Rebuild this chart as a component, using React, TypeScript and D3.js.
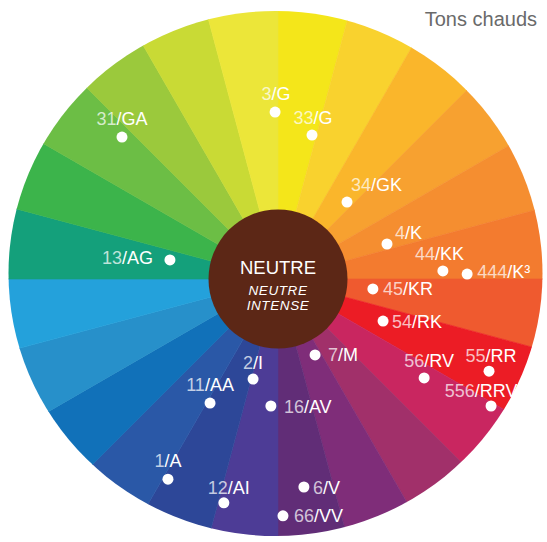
import * as d3 from 'd3'
import React, { useEffect, useRef } from 'react'

// wheel colours, clockwise from 12 o'clock, 15 degrees each
const segmentColors = [
  '#F4E61A', '#F9D22E', '#FAB62B', '#F7A130', '#F58E30', '#F37B2F',
  '#EF5A2F', '#EC1C25', '#C92660', '#A1306A', '#7F2D79', '#612D77',
  '#4D3C96', '#2D4798', '#2A58A7', '#1171B9', '#2790CA', '#24A1DB',
  '#14A07B', '#3CB44B', '#6CBE45', '#9BC93C', '#C9DA35', '#ECE639',
]

// labelled points: code, angle (deg clockwise from top), distance from centre (share of wheel radius)
const labelCodes = [
  '3/G', '33/G', '31/GA', '34/GK', '4/K', '44/KK', '444/K³', '13/AG', '45/KR', '54/RK', '7/M',
  '2/I', '56/RV', '55/RR', '556/RRV', '11/AA', '16/AV', '1/A', '12/AI', '6/V', '66/VV',
]
const labelAngles = [
  359.0, 13.3, 312.3, 41.9, 72.2, 87.2, 88.5, 280.0, 96.0, 111.8, 154.0,
  194.0, 124.1, 113.6, 120.8, 208.7, 183.2, 208.8, 193.6, 172.9, 178.8,
]
const labelDistance = [
  0.630, 0.558, 0.796, 0.390, 0.432, 0.623, 0.714, 0.414, 0.360, 0.427, 0.319,
  0.389, 0.666, 0.869, 0.936, 0.534, 0.480, 0.862, 0.869, 0.791, 0.894,
]

// where each text sits relative to its dot: [dx, dy, anchor]
const placement: Record<string, [number, number, string]> = {
  '3/G': [1, -12.5, 'middle'],
  '33/G': [1, -11.5, 'middle'],
  '31/GA': [0, -12.5, 'middle'],
  '34/GK': [4, -11.5, 'start'],
  '4/K': [8, -5.5, 'start'],
  '44/KK': [-28, -10.5, 'start'],
  '444/K³': [10, 3.5, 'start'],
  '13/AG': [-17, 4.5, 'end'],
  '45/KR': [10, 6.5, 'start'],
  '54/RK': [9, 6.5, 'start'],
  '7/M': [13, 6.5, 'start'],
  '2/I': [0, -10.5, 'middle'],
  '56/RV': [5, -10.5, 'middle'],
  '55/RR': [2, -9.5, 'middle'],
  '556/RRV': [-10, -9.5, 'middle'],
  '11/AA': [0, -12.5, 'middle'],
  '16/AV': [13, 6.5, 'start'],
  '1/A': [0, -12.5, 'middle'],
  '12/AI': [5, -8.5, 'middle'],
  '6/V': [9, 6.5, 'start'],
  '66/VV': [11, 6.5, 'start'],
}

const W = 547
const H = 542
const FONT = "'Helvetica Neue', Helvetica, 'Liberation Sans', Arial, sans-serif"

const App = () => {
  const ref = useRef<SVGSVGElement>(null)

  useEffect(() => {
    const svg = d3.select(ref.current)
    svg.selectAll('*').remove()

    // rim of the wheel is a touch wider than tall
    const rim = { cx: 275.5, cy: 273.5, rx: 267, ry: 262.5 }
    const cx = 278
    const cy = 279
    const wheelR = 265

    svg.append('defs')
      .append('clipPath')
      .attr('id', 'rim')
      .append('ellipse')
      .attr('cx', rim.cx)
      .attr('cy', rim.cy)
      .attr('rx', rim.rx)
      .attr('ry', rim.ry)

    const pie = d3.pie<string>().sort(null).value(() => 1)
    const arc = d3.arc<d3.PieArcDatum<string>>().innerRadius(0).outerRadius(400)

    svg.append('g')
      .attr('clip-path', 'url(#rim)')
      .append('g')
      .attr('transform', `translate(${cx},${cy})`)
      .selectAll('path')
      .data(pie(segmentColors))
      .enter()
      .append('path')
      .attr('d', arc)
      .attr('fill', (d) => d.data)
      .attr('stroke', (d) => d.data)
      .attr('stroke-width', 0.6)

    // centre disc
    const centre = svg.append('g').attr('transform', `translate(${cx},${cy})`)
    centre.append('circle').attr('r', 69.5).attr('fill', '#5C2716')
    centre.append('text')
      .attr('y', -5.5)
      .attr('text-anchor', 'middle')
      .attr('font-family', FONT)
      .attr('font-size', 18.5)
      .attr('fill', '#fff')
      .text('NEUTRE')
    // two italic lines, kept small enough not to collide
    ;['NEUTRE', 'INTENSE'].forEach((t, i) => {
      centre.append('text')
        .attr('y', 15.5 + i * 15.5)
        .attr('text-anchor', 'middle')
        .attr('font-family', FONT)
        .attr('font-style', 'italic')
        .attr('font-size', 13.5)
        .attr('letter-spacing', 0.6)
        .attr('fill', '#fff')
        .text(t)
    })

    // points
    const rScale = d3.scaleLinear().domain([0, 1]).range([0, wheelR])
    const points = labelCodes.map((code, i) => {
      const [x, y] = d3.pointRadial((labelAngles[i] * Math.PI) / 180, rScale(labelDistance[i]))
      return { code, x: x + cx, y: y + cy }
    })

    const pt = svg.append('g')
      .selectAll('g')
      .data(points)
      .enter()
      .append('g')
      .attr('transform', (d) => `translate(${d.x},${d.y})`)

    pt.append('circle').attr('r', 5.5).attr('fill', '#fff')

    const label = pt.append('text')
      .attr('x', (d) => placement[d.code][0])
      .attr('y', (d) => placement[d.code][1])
      .attr('text-anchor', (d) => placement[d.code][2])
      .attr('font-family', FONT)
      .attr('font-size', 18)
      .attr('fill', '#fff')

    label.append('tspan')
      .attr('font-weight', 300)
      .attr('fill-opacity', 0.72)
      .text((d) => d.code.split('/')[0])
    label.append('tspan')
      .text((d) => '/' + d.code.split('/')[1])

    svg.append('text')
      .attr('x', 537)
      .attr('y', 26)
      .attr('text-anchor', 'end')
      .attr('font-family', FONT)
      .attr('font-weight', 300)
      .attr('font-size', 20)
      .attr('fill', '#6a6a6a')
      .text('Tons chauds')
  }, [])

  return (
    <svg
      ref={ref}
      width={W}
      height={H}
      style={{ position: 'absolute', left: 0, top: 0, background: '#fff' }}
    />
  )
}

export default App
